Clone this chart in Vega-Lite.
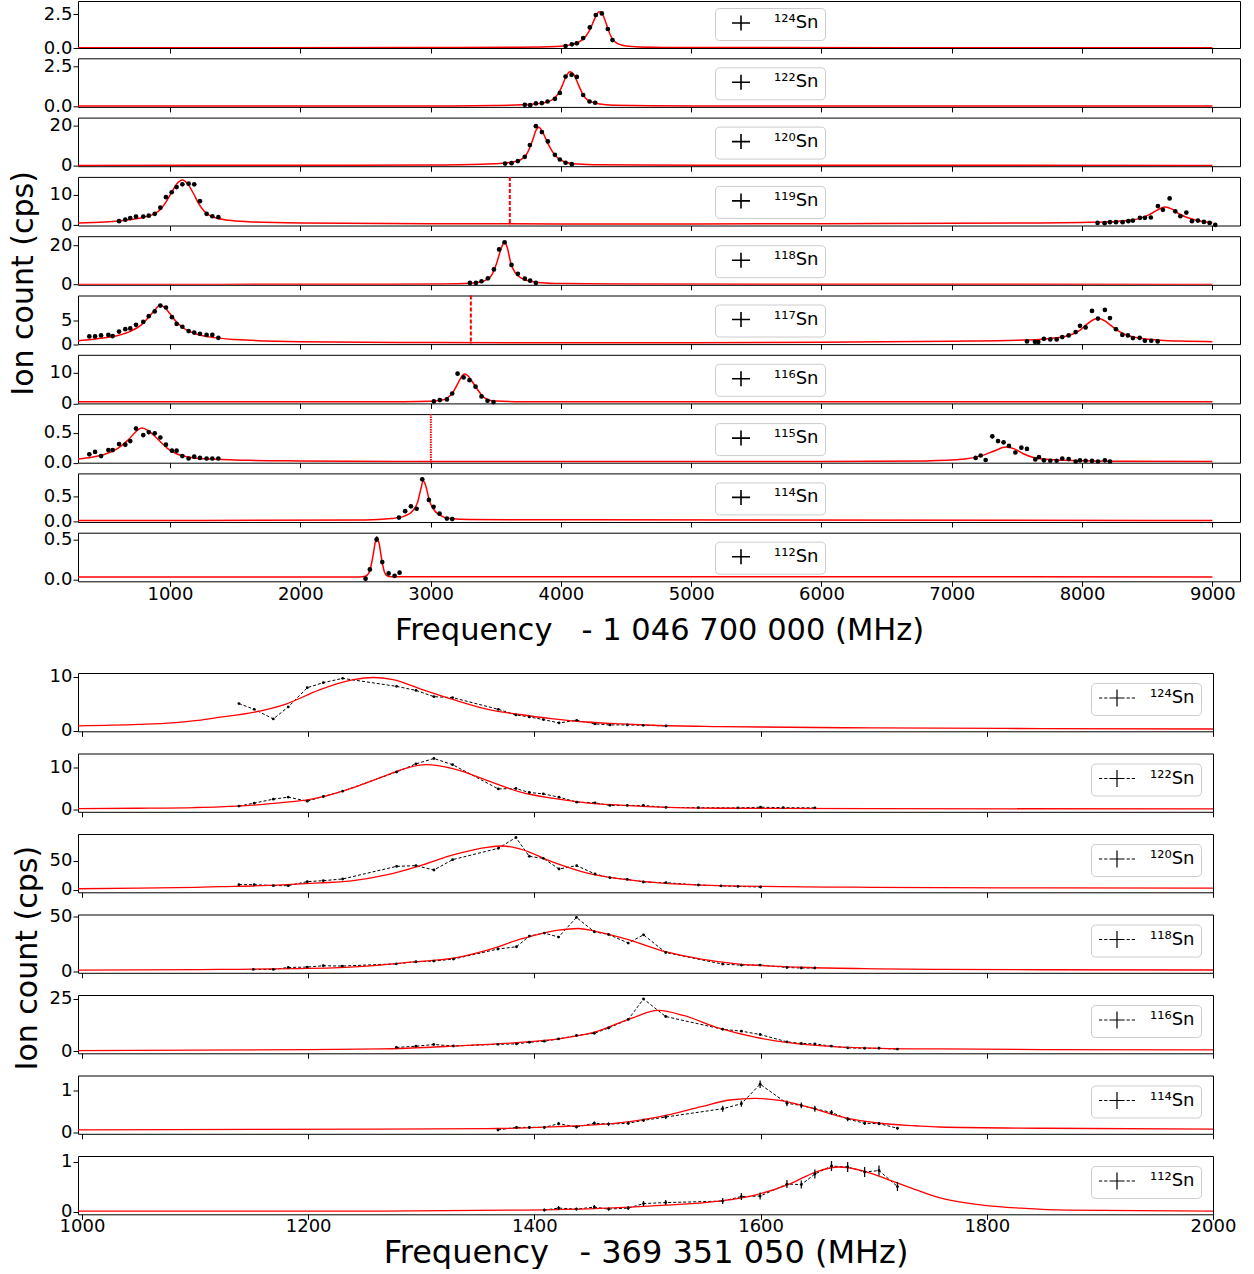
{
"$schema": "https://vega.github.io/schema/vega-lite/v6.json",
"background": "white",
"padding": {"left": 8, "top": 0, "right": 0, "bottom": 0},
"config": {
 "font": "DejaVu Sans",
 "view": {"stroke": "black", "strokeWidth": 1},
 "axis": {"labelFont": "DejaVu Sans", "labelFontSize": 18, "labelColor": "black", "tickColor": "black", "tickSize": 5, "tickWidth": 1, "domain": false, "grid": false, "labelFlush": false, "labelOverlap": false, "labelPadding": 1, "titleFont": "DejaVu Sans", "titleFontSize": 30, "titleFontWeight": "normal", "titleColor": "black", "titlePadding": 8},
 "title": {"font": "DejaVu Sans", "fontSize": 30, "fontWeight": "normal", "color": "black"}
},
"datasets": {
 "T1p": [{"f":4036,"c":0.15},{"f":4084,"c":0.27},{"f":4122,"c":0.35},{"f":4171,"c":0.74},{"f":4222,"c":1.53},{"f":4268,"c":2.45},{"f":4314,"c":2.57},{"f":4360,"c":1.41},{"f":4396,"c":0.59}],
 "T1f": [{"f":294,"c":0.02},{"f":3000,"c":0.03},{"f":3600,"c":0.05},{"f":3900,"c":0.09},{"f":4000,"c":0.13},{"f":4080,"c":0.25},{"f":4140,"c":0.45},{"f":4190,"c":0.85},{"f":4230,"c":1.5},{"f":4260,"c":2.2},{"f":4294,"c":2.69},{"f":4320,"c":2.5},{"f":4350,"c":1.75},{"f":4380,"c":0.95},{"f":4410,"c":0.5},{"f":4450,"c":0.27},{"f":4500,"c":0.15},{"f":4600,"c":0.08},{"f":5000,"c":0.03},{"f":9000,"c":0.02}],
 "T2p": [{"f":3723,"c":0.1},{"f":3764,"c":0.08},{"f":3808,"c":0.19},{"f":3854,"c":0.21},{"f":3898,"c":0.31},{"f":3954,"c":0.48},{"f":3992,"c":0.85},{"f":4036,"c":1.88},{"f":4082,"c":1.99},{"f":4122,"c":1.86},{"f":4171,"c":0.72},{"f":4220,"c":0.31},{"f":4263,"c":0.23}],
 "T2f": [{"f":294,"c":0.02},{"f":3000,"c":0.03},{"f":3500,"c":0.06},{"f":3700,"c":0.1},{"f":3800,"c":0.15},{"f":3880,"c":0.25},{"f":3940,"c":0.45},{"f":3980,"c":0.8},{"f":4010,"c":1.3},{"f":4040,"c":1.9},{"f":4069,"c":2.19},{"f":4100,"c":2.0},{"f":4130,"c":1.45},{"f":4160,"c":0.9},{"f":4190,"c":0.52},{"f":4230,"c":0.3},{"f":4300,"c":0.15},{"f":4400,"c":0.08},{"f":5000,"c":0.03},{"f":9000,"c":0.02}],
 "T3p": [{"f":3572,"c":1.1},{"f":3621,"c":1.3},{"f":3670,"c":2.3},{"f":3723,"c":4.4},{"f":3762,"c":10.2},{"f":3808,"c":19.5},{"f":3854,"c":16.6},{"f":3900,"c":12},{"f":3954,"c":5.4},{"f":3992,"c":3.1},{"f":4036,"c":1.5},{"f":4084,"c":0.8}],
 "T3f": [{"f":294,"c":0.2},{"f":2000,"c":0.25},{"f":3000,"c":0.4},{"f":3400,"c":0.8},{"f":3550,"c":1.2},{"f":3650,"c":2.1},{"f":3700,"c":3.3},{"f":3740,"c":6},{"f":3780,"c":12},{"f":3810,"c":17.5},{"f":3831,"c":19},{"f":3860,"c":16.5},{"f":3900,"c":11},{"f":3940,"c":6.5},{"f":3980,"c":3.6},{"f":4030,"c":1.9},{"f":4100,"c":1.0},{"f":4250,"c":0.55},{"f":4600,"c":0.35},{"f":5500,"c":0.25},{"f":9000,"c":0.2}],
 "T4p": [{"f":609,"c":1.3},{"f":657,"c":1.8},{"f":695,"c":2.3},{"f":739,"c":2.8},{"f":795,"c":2.8},{"f":837,"c":3.1},{"f":883,"c":3.7},{"f":926,"c":5.7},{"f":969,"c":9.1},{"f":1013,"c":10.7},{"f":1051,"c":12.4},{"f":1095,"c":13.3},{"f":1143,"c":13.5},{"f":1186,"c":13.3},{"f":1230,"c":7.8},{"f":1281,"c":3.7},{"f":1325,"c":2.9},{"f":1371,"c":2.6},{"f":8119,"c":0.74},{"f":8173,"c":0.65},{"f":8214,"c":0.97},{"f":8260,"c":0.97},{"f":8311,"c":0.97},{"f":8355,"c":1.3},{"f":8390,"c":1.5},{"f":8444,"c":2.4},{"f":8482,"c":2.4},{"f":8528,"c":2.5},{"f":8582,"c":6.2},{"f":8620,"c":5.0},{"f":8672,"c":8.7},{"f":8715,"c":4.5},{"f":8754,"c":2.9},{"f":8800,"c":4.1},{"f":8843,"c":1.3},{"f":8889,"c":1.5},{"f":8935,"c":1.06},{"f":8979,"c":0.74},{"f":9022,"c":0.1}],
 "T4f": [{"f":294,"c":0.75},{"f":500,"c":1.05},{"f":600,"c":1.35},{"f":700,"c":1.85},{"f":800,"c":2.6},{"f":880,"c":3.7},{"f":930,"c":5.3},{"f":970,"c":7.6},{"f":1010,"c":10.5},{"f":1050,"c":13.3},{"f":1095,"c":14.7},{"f":1140,"c":13.2},{"f":1180,"c":10.3},{"f":1220,"c":7},{"f":1260,"c":4.7},{"f":1300,"c":3.3},{"f":1350,"c":2.4},{"f":1450,"c":1.6},{"f":1600,"c":1.15},{"f":2000,"c":0.75},{"f":3000,"c":0.5},{"f":4000,"c":0.42},{"f":5000,"c":0.42},{"f":6000,"c":0.48},{"f":7000,"c":0.6},{"f":7600,"c":0.72},{"f":8000,"c":0.9},{"f":8200,"c":1.1},{"f":8350,"c":1.5},{"f":8450,"c":2.3},{"f":8520,"c":3.5},{"f":8580,"c":5.0},{"f":8634,"c":5.9},{"f":8690,"c":5.2},{"f":8740,"c":3.8},{"f":8800,"c":2.6},{"f":8870,"c":1.7},{"f":8940,"c":1.1},{"f":9000,"c":0.8}],
 "T5p": [{"f":3302,"c":0.85},{"f":3348,"c":0.85},{"f":3391,"c":1.7},{"f":3440,"c":3.2},{"f":3486,"c":7.7},{"f":3526,"c":17.9},{"f":3568,"c":21.5},{"f":3621,"c":10},{"f":3670,"c":5.5},{"f":3723,"c":3},{"f":3764,"c":2},{"f":3808,"c":0.85}],
 "T5f": [{"f":294,"c":0.1},{"f":2500,"c":0.15},{"f":3100,"c":0.35},{"f":3300,"c":0.7},{"f":3380,"c":1.3},{"f":3430,"c":2.5},{"f":3470,"c":5},{"f":3505,"c":10.5},{"f":3540,"c":18},{"f":3568,"c":21.8},{"f":3590,"c":18.5},{"f":3615,"c":11},{"f":3650,"c":6},{"f":3700,"c":3.2},{"f":3760,"c":1.8},{"f":3850,"c":1.0},{"f":4000,"c":0.5},{"f":4400,"c":0.25},{"f":9000,"c":0.1}],
 "T6p": [{"f":381,"c":1.6},{"f":425,"c":1.6},{"f":471,"c":1.8},{"f":527,"c":1.9},{"f":560,"c":1.67},{"f":609,"c":2.6},{"f":657,"c":3.1},{"f":695,"c":3.25},{"f":739,"c":4},{"f":795,"c":4.6},{"f":837,"c":5.8},{"f":883,"c":6.8},{"f":926,"c":8.0},{"f":969,"c":7.6},{"f":1015,"c":5.6},{"f":1051,"c":4.2},{"f":1095,"c":3.6},{"f":1143,"c":2.7},{"f":1186,"c":2.4},{"f":1230,"c":2.15},{"f":1281,"c":1.9},{"f":1325,"c":1.9},{"f":1371,"c":1.3},{"f":7577,"c":0.55},{"f":7638,"c":0.48},{"f":7664,"c":0.42},{"f":7707,"c":1.1},{"f":7756,"c":0.97},{"f":7805,"c":0.97},{"f":7848,"c":1.46},{"f":7897,"c":1.8},{"f":7951,"c":2.5},{"f":7984,"c":3.8},{"f":8027,"c":3.46},{"f":8076,"c":6.9},{"f":8122,"c":5.3},{"f":8175,"c":7.1},{"f":8214,"c":5.4},{"f":8260,"c":3.1},{"f":8309,"c":1.9},{"f":8352,"c":1.8},{"f":8390,"c":1.25},{"f":8442,"c":1.3},{"f":8482,"c":0.69},{"f":8531,"c":0.69},{"f":8580,"c":0.55}],
 "T6f": [{"f":294,"c":0.7},{"f":400,"c":0.95},{"f":500,"c":1.3},{"f":600,"c":1.8},{"f":700,"c":2.7},{"f":780,"c":4},{"f":850,"c":6},{"f":900,"c":7.6},{"f":918,"c":8.1},{"f":960,"c":7.6},{"f":1000,"c":6.3},{"f":1050,"c":4.6},{"f":1100,"c":3.4},{"f":1200,"c":2.1},{"f":1300,"c":1.5},{"f":1500,"c":0.95},{"f":2000,"c":0.5},{"f":3000,"c":0.32},{"f":4000,"c":0.28},{"f":5000,"c":0.3},{"f":6000,"c":0.38},{"f":7000,"c":0.6},{"f":7500,"c":0.8},{"f":7700,"c":1.0},{"f":7800,"c":1.3},{"f":7900,"c":1.8},{"f":7980,"c":2.8},{"f":8040,"c":4.2},{"f":8090,"c":5.1},{"f":8122,"c":5.3},{"f":8170,"c":4.9},{"f":8220,"c":3.9},{"f":8280,"c":2.7},{"f":8350,"c":1.8},{"f":8450,"c":1.2},{"f":8600,"c":0.8},{"f":8800,"c":0.6},{"f":9000,"c":0.5}],
 "T7p": [{"f":3025,"c":0.65},{"f":3071,"c":1.07},{"f":3125,"c":1.3},{"f":3166,"c":3.2},{"f":3207,"c":9.6},{"f":3253,"c":8.4},{"f":3299,"c":7.5},{"f":3345,"c":5.4},{"f":3391,"c":2.26},{"f":3437,"c":0.86},{"f":3483,"c":0.42}],
 "T7f": [{"f":294,"c":0.5},{"f":2800,"c":0.55},{"f":3000,"c":0.7},{"f":3080,"c":1.0},{"f":3130,"c":1.8},{"f":3170,"c":3.5},{"f":3210,"c":6.5},{"f":3240,"c":8.8},{"f":3259,"c":9.5},{"f":3290,"c":8.8},{"f":3320,"c":7},{"f":3360,"c":4.5},{"f":3400,"c":2.3},{"f":3440,"c":1.2},{"f":3500,"c":0.75},{"f":3700,"c":0.55},{"f":9000,"c":0.5}],
 "T8p": [{"f":381,"c":0.14,"e":0.03},{"f":425,"c":0.18,"e":0.03},{"f":471,"c":0.11,"e":0.03},{"f":527,"c":0.21,"e":0.03},{"f":560,"c":0.21,"e":0.03},{"f":609,"c":0.31,"e":0.03},{"f":657,"c":0.3,"e":0.03},{"f":695,"c":0.36,"e":0.03},{"f":739,"c":0.57,"e":0.035},{"f":795,"c":0.46,"e":0.035},{"f":837,"c":0.51,"e":0.035},{"f":883,"c":0.49,"e":0.035},{"f":926,"c":0.42,"e":0.03},{"f":969,"c":0.3,"e":0.03},{"f":1015,"c":0.2,"e":0.03},{"f":1051,"c":0.2,"e":0.03},{"f":1095,"c":0.11,"e":0.02},{"f":1143,"c":0.07,"e":0.02},{"f":1186,"c":0.1,"e":0.02},{"f":1230,"c":0.08,"e":0.02},{"f":1281,"c":0.07,"e":0.02},{"f":1325,"c":0.07,"e":0.02},{"f":1371,"c":0.07,"e":0.02},{"f":7183,"c":0.08,"e":0.02},{"f":7222,"c":0.12,"e":0.02},{"f":7260,"c":0.045,"e":0.02},{"f":7311,"c":0.44,"e":0.035},{"f":7355,"c":0.36,"e":0.03},{"f":7398,"c":0.34,"e":0.03},{"f":7439,"c":0.28,"e":0.03},{"f":7488,"c":0.17,"e":0.03},{"f":7534,"c":0.25,"e":0.03},{"f":7577,"c":0.23,"e":0.03},{"f":7641,"c":0.055,"e":0.02},{"f":7669,"c":0.095,"e":0.02},{"f":7707,"c":0.04,"e":0.02},{"f":7756,"c":0.033,"e":0.02},{"f":7805,"c":0.033,"e":0.02},{"f":7848,"c":0.07,"e":0.02},{"f":7897,"c":0.06,"e":0.02},{"f":7951,"c":0.02,"e":0.02},{"f":7984,"c":0.04,"e":0.02},{"f":8027,"c":0.033,"e":0.02},{"f":8076,"c":0.03,"e":0.02},{"f":8122,"c":0.02,"e":0.02},{"f":8175,"c":0.04,"e":0.02},{"f":8214,"c":0.02,"e":0.02}],
 "T8f": [{"f":294,"c":0.06},{"f":400,"c":0.09},{"f":500,"c":0.14},{"f":600,"c":0.24},{"f":680,"c":0.38},{"f":740,"c":0.52},{"f":783,"c":0.58},{"f":830,"c":0.54},{"f":880,"c":0.45},{"f":930,"c":0.34},{"f":980,"c":0.24},{"f":1050,"c":0.15},{"f":1150,"c":0.09},{"f":1300,"c":0.06},{"f":1600,"c":0.04},{"f":2000,"c":0.03},{"f":3000,"c":0.02},{"f":6000,"c":0.02},{"f":6800,"c":0.03},{"f":7100,"c":0.06},{"f":7250,"c":0.13},{"f":7330,"c":0.2},{"f":7418,"c":0.26},{"f":7480,"c":0.23},{"f":7550,"c":0.15},{"f":7620,"c":0.09},{"f":7700,"c":0.06},{"f":7850,"c":0.04},{"f":8200,"c":0.025},{"f":9000,"c":0.02}],
 "T9p": [{"f":2757,"c":0.07,"e":0.03},{"f":2805,"c":0.2,"e":0.03},{"f":2849,"c":0.3,"e":0.03},{"f":2893,"c":0.25,"e":0.03},{"f":2936,"c":0.85,"e":0.04},{"f":2987,"c":0.43,"e":0.03},{"f":3023,"c":0.29,"e":0.03},{"f":3069,"c":0.15,"e":0.03},{"f":3125,"c":0.05,"e":0.02},{"f":3166,"c":0.04,"e":0.02}],
 "T9f": [{"f":294,"c":0.01},{"f":2500,"c":0.02},{"f":2700,"c":0.05},{"f":2800,"c":0.1},{"f":2860,"c":0.2},{"f":2900,"c":0.38},{"f":2925,"c":0.65},{"f":2944,"c":0.82},{"f":2965,"c":0.7},{"f":2990,"c":0.42},{"f":3020,"c":0.25},{"f":3070,"c":0.12},{"f":3150,"c":0.05},{"f":3300,"c":0.03},{"f":9000,"c":0.01}],
 "T10p": [{"f":2501,"c":0.016,"e":0.02},{"f":2534,"c":0.13,"e":0.025},{"f":2586,"c":0.5,"e":0.035},{"f":2629,"c":0.22,"e":0.025},{"f":2678,"c":0.08,"e":0.02},{"f":2724,"c":0.05,"e":0.02},{"f":2762,"c":0.09,"e":0.02}],
 "T10f": [{"f":294,"c":0.037},{"f":2450,"c":0.037},{"f":2500,"c":0.045},{"f":2530,"c":0.1},{"f":2555,"c":0.27},{"f":2575,"c":0.46},{"f":2588,"c":0.53},{"f":2605,"c":0.45},{"f":2625,"c":0.25},{"f":2645,"c":0.1},{"f":2665,"c":0.05},{"f":2700,"c":0.04},{"f":9000,"c":0.037}],
 "B1p": [{"f":1138.8,"c":5.03},{"f":1152.3,"c":3.97},{"f":1169.2,"c":2.18},{"f":1182.4,"c":4.41},{"f":1199.2,"c":8.0},{"f":1213.4,"c":8.94},{"f":1230.5,"c":9.74},{"f":1278.2,"c":8.25},{"f":1295.3,"c":7.5},{"f":1311.2,"c":6.33},{"f":1327.7,"c":6.15},{"f":1368.1,"c":3.97},{"f":1383.7,"c":2.92},{"f":1395.5,"c":2.55},{"f":1407.9,"c":2.05},{"f":1421.8,"c":1.43},{"f":1437.4,"c":1.92},{"f":1453.6,"c":1.25},{"f":1466.8,"c":1.06},{"f":1482.1,"c":1.06},{"f":1496.3,"c":0.99},{"f":1516.4,"c":0.87}],
 "B1f": [{"f":996.5,"c":0.88},{"f":1050,"c":1.15},{"f":1080,"c":1.45},{"f":1100,"c":1.85},{"f":1122,"c":2.5},{"f":1151.5,"c":3.4},{"f":1181,"c":5.0},{"f":1210,"c":7.6},{"f":1240,"c":9.5},{"f":1257.6,"c":9.9},{"f":1275,"c":9.5},{"f":1299,"c":7.8},{"f":1328,"c":5.8},{"f":1358,"c":4.0},{"f":1387,"c":3.0},{"f":1417,"c":2.2},{"f":1446,"c":1.6},{"f":1476,"c":1.25},{"f":1505,"c":1.0},{"f":1564,"c":0.75},{"f":1700,"c":0.5},{"f":1850,"c":0.38},{"f":2000,"c":0.3}],
 "B2p": [{"f":1138.8,"c":0.72},{"f":1152.3,"c":1.44},{"f":1169.2,"c":2.4},{"f":1182.4,"c":2.88},{"f":1199.2,"c":1.92},{"f":1213.4,"c":3.04},{"f":1230.5,"c":4.32},{"f":1278.2,"c":8.95},{"f":1295.3,"c":10.9},{"f":1311.2,"c":12.2},{"f":1327.7,"c":10.7},{"f":1368.1,"c":4.87},{"f":1383.7,"c":4.96},{"f":1395.5,"c":4.0},{"f":1407.9,"c":3.67},{"f":1421.8,"c":2.88},{"f":1437.4,"c":1.68},{"f":1453.6,"c":1.52},{"f":1466.8,"c":0.88},{"f":1482.1,"c":0.88},{"f":1496.3,"c":0.88},{"f":1516.4,"c":0.4},{"f":1545,"c":0.35},{"f":1580,"c":0.3},{"f":1600,"c":0.45},{"f":1620,"c":0.35},{"f":1648,"c":0.3}],
 "B2f": [{"f":996.5,"c":0.1},{"f":1050,"c":0.2},{"f":1100,"c":0.38},{"f":1122,"c":0.55},{"f":1151.5,"c":0.96},{"f":1181,"c":1.68},{"f":1199,"c":2.2},{"f":1210,"c":2.8},{"f":1240,"c":5.2},{"f":1269,"c":8.15},{"f":1287,"c":9.9},{"f":1304.7,"c":10.7},{"f":1328,"c":9.75},{"f":1358,"c":6.95},{"f":1387,"c":4.15},{"f":1417,"c":2.56},{"f":1446,"c":1.52},{"f":1476,"c":0.96},{"f":1505,"c":0.55},{"f":1564,"c":0.2},{"f":1700,"c":0.1},{"f":2000,"c":0.05}],
 "B3p": [{"f":1138.8,"c":8.6},{"f":1152.3,"c":8.6},{"f":1169.2,"c":6.9},{"f":1182.4,"c":6.9},{"f":1199.2,"c":13.8},{"f":1213.4,"c":15.5},{"f":1230.5,"c":18.4},{"f":1278.2,"c":40.2},{"f":1295.3,"c":41.4},{"f":1311.2,"c":33.9},{"f":1327.7,"c":51.7},{"f":1368.1,"c":71.3},{"f":1383.7,"c":90},{"f":1395.5,"c":57.4},{"f":1407.9,"c":54},{"f":1421.8,"c":35.6},{"f":1437.4,"c":41.4},{"f":1453.6,"c":27},{"f":1466.8,"c":20.7},{"f":1482.1,"c":17.8},{"f":1496.3,"c":13.2},{"f":1516.4,"c":12},{"f":1545,"c":8},{"f":1565,"c":6.5},{"f":1580,"c":5.5},{"f":1600,"c":4.5}],
 "B3f": [{"f":996.5,"c":1.5},{"f":1050,"c":2.5},{"f":1100,"c":4},{"f":1122,"c":5.2},{"f":1151.5,"c":6.3},{"f":1181,"c":8.6},{"f":1210,"c":11.5},{"f":1240,"c":15.5},{"f":1269,"c":25.3},{"f":1299,"c":41.4},{"f":1328,"c":59.8},{"f":1358,"c":73},{"f":1372.5,"c":75.3},{"f":1387,"c":70.2},{"f":1417,"c":47},{"f":1446,"c":28.8},{"f":1476,"c":18.4},{"f":1505,"c":12.6},{"f":1564,"c":6.9},{"f":1700,"c":4},{"f":1850,"c":3},{"f":2000,"c":2.5}],
 "B4p": [{"f":1151.5,"c":1.5},{"f":1169.2,"c":1.5},{"f":1182.4,"c":3.3},{"f":1199.2,"c":3.7},{"f":1213.4,"c":4.9},{"f":1230.2,"c":4.6},{"f":1278,"c":6.7},{"f":1295.3,"c":8.6},{"f":1311,"c":9.2},{"f":1328.4,"c":11},{"f":1367.8,"c":20.3},{"f":1384.2,"c":22.4},{"f":1395.6,"c":32.2},{"f":1408.8,"c":35},{"f":1421.4,"c":31.3},{"f":1437.2,"c":49.4},{"f":1453,"c":36.2},{"f":1465.6,"c":33.7},{"f":1483,"c":25.8},{"f":1496.5,"c":33.4},{"f":1516.1,"c":17.1},{"f":1566.5,"c":6.4},{"f":1583,"c":5.5},{"f":1599.6,"c":5.5},{"f":1623.3,"c":3.3},{"f":1636,"c":2.8},{"f":1648,"c":2.8}],
 "B4f": [{"f":996.5,"c":0.9},{"f":1100,"c":1.4},{"f":1200,"c":2.4},{"f":1263.7,"c":5.5},{"f":1295.3,"c":8.6},{"f":1326.8,"c":11.6},{"f":1358.4,"c":19.3},{"f":1389.9,"c":30},{"f":1421.4,"c":37.7},{"f":1438.8,"c":39.2},{"f":1453,"c":36.8},{"f":1484.5,"c":28.5},{"f":1516,"c":17.8},{"f":1547.6,"c":11},{"f":1579,"c":6.7},{"f":1610.7,"c":4.6},{"f":1642,"c":3.3},{"f":1705,"c":2.1},{"f":1758,"c":1.5},{"f":1850,"c":1.2},{"f":2000,"c":1.0}],
 "B5p": [{"f":1278,"c":1.8},{"f":1295.3,"c":2.4},{"f":1311,"c":3.2},{"f":1328.4,"c":2.5},{"f":1367.8,"c":3.3},{"f":1384.2,"c":3.5},{"f":1395.6,"c":4.3},{"f":1408.8,"c":4.8},{"f":1421.4,"c":5.9},{"f":1437.2,"c":7.5},{"f":1453,"c":8.6},{"f":1465.6,"c":11.1},{"f":1483,"c":15.2},{"f":1496.5,"c":25},{"f":1516.1,"c":16.6},{"f":1566.5,"c":10.5},{"f":1583,"c":9.6},{"f":1599.6,"c":8},{"f":1623.3,"c":4.5},{"f":1636,"c":3.7},{"f":1648,"c":3.5},{"f":1662.7,"c":2.4},{"f":1677,"c":1.6},{"f":1692,"c":1.4},{"f":1704.7,"c":1.4},{"f":1721,"c":1.0}],
 "B5f": [{"f":996.5,"c":0.3},{"f":1200,"c":0.8},{"f":1263.7,"c":1.1},{"f":1326.8,"c":2.4},{"f":1389.9,"c":4.3},{"f":1421.4,"c":5.9},{"f":1453,"c":9.1},{"f":1484.5,"c":15.5},{"f":1509.8,"c":19.5},{"f":1531.8,"c":17.1},{"f":1563.4,"c":11},{"f":1594.9,"c":6.7},{"f":1626.5,"c":4},{"f":1658,"c":2.4},{"f":1705.3,"c":1.4},{"f":1758,"c":1.1},{"f":1850,"c":0.8},{"f":2000,"c":0.6}],
 "B6p": [{"f":1367.8,"c":0.06,"e":0.03},{"f":1384.2,"c":0.12,"e":0.03},{"f":1395.6,"c":0.12,"e":0.03},{"f":1408.8,"c":0.12,"e":0.03},{"f":1421.4,"c":0.21,"e":0.04},{"f":1437.2,"c":0.13,"e":0.03},{"f":1453,"c":0.22,"e":0.04},{"f":1465.6,"c":0.2,"e":0.04},{"f":1483,"c":0.22,"e":0.04},{"f":1496.5,"c":0.29,"e":0.04},{"f":1516.1,"c":0.37,"e":0.05},{"f":1566.5,"c":0.57,"e":0.07},{"f":1583,"c":0.69,"e":0.07},{"f":1599.6,"c":1.16,"e":0.09},{"f":1623.3,"c":0.7,"e":0.07},{"f":1636,"c":0.65,"e":0.07},{"f":1648,"c":0.57,"e":0.07},{"f":1662.7,"c":0.48,"e":0.06},{"f":1677,"c":0.32,"e":0.05},{"f":1692,"c":0.22,"e":0.04},{"f":1704.7,"c":0.21,"e":0.04},{"f":1721,"c":0.1,"e":0.03}],
 "B6f": [{"f":996.5,"c":0.06},{"f":1263.7,"c":0.08},{"f":1358.4,"c":0.09},{"f":1421.4,"c":0.14},{"f":1453,"c":0.18},{"f":1484.5,"c":0.26},{"f":1516,"c":0.41},{"f":1547.6,"c":0.62},{"f":1572.8,"c":0.78},{"f":1595,"c":0.82},{"f":1617,"c":0.77},{"f":1642.3,"c":0.61},{"f":1673.8,"c":0.36},{"f":1705.3,"c":0.22},{"f":1736.9,"c":0.16},{"f":1758,"c":0.13},{"f":1850,"c":0.1},{"f":2000,"c":0.08}],
 "B7p": [{"f":1408.8,"c":0.03,"e":0.03},{"f":1421.4,"c":0.07,"e":0.04},{"f":1437.2,"c":0.05,"e":0.03},{"f":1453,"c":0.09,"e":0.04},{"f":1465.6,"c":0.05,"e":0.03},{"f":1483,"c":0.07,"e":0.04},{"f":1496.5,"c":0.16,"e":0.05},{"f":1516.1,"c":0.18,"e":0.05},{"f":1566.5,"c":0.21,"e":0.06},{"f":1583,"c":0.3,"e":0.07},{"f":1599.6,"c":0.31,"e":0.07},{"f":1623.3,"c":0.55,"e":0.08},{"f":1636,"c":0.54,"e":0.08},{"f":1648,"c":0.75,"e":0.09},{"f":1662.7,"c":0.91,"e":0.1},{"f":1677,"c":0.89,"e":0.1},{"f":1692,"c":0.79,"e":0.1},{"f":1704.7,"c":0.82,"e":0.1},{"f":1721,"c":0.5,"e":0.09}],
 "B7f": [{"f":996.5,"c":0.01},{"f":1263.7,"c":0.01},{"f":1389.9,"c":0.03},{"f":1453,"c":0.06},{"f":1516,"c":0.13},{"f":1563.4,"c":0.21},{"f":1595,"c":0.33},{"f":1626.5,"c":0.56},{"f":1648.6,"c":0.79},{"f":1669,"c":0.89},{"f":1689.6,"c":0.82},{"f":1711.6,"c":0.65},{"f":1736.9,"c":0.44},{"f":1758,"c":0.28},{"f":1780,"c":0.18},{"f":1800,"c":0.12},{"f":1830,"c":0.07},{"f":1870,"c":0.03},{"f":2000,"c":0.01}]
},
"spacing": 20,
"resolve": {"scale": {"color": "independent"}, "legend": {"color": "independent"}},
"vconcat": [
{
 "title": {"text": "Ion count (cps)", "orient": "left", "anchor": "middle", "offset": 4, "dx": 40},
 "bounds": "flush",
 "spacing": 10.3,
 "resolve": {"scale": {"color": "independent"}, "legend": {"color": "independent"}},
 "vconcat": [
  {"width": 1162, "height": 47, "layer": [
   {"data": {"name": "T1f"}, "mark": {"type": "line", "color": "red", "strokeWidth": 1.5, "interpolate": "monotone", "clip": true},
    "encoding": {"x": {"field": "f", "type": "quantitative", "scale": {"domain": [294, 9212], "nice": false, "zero": false}, "axis": {"title": null, "labels": false, "values": [1000,2000,3000,4000,5000,6000,7000,8000,9000]}},
                 "y": {"field": "c", "type": "quantitative", "scale": {"domain": [0, 3.49], "nice": false, "zero": false}, "axis": {"title": null, "values": [0, 2.5], "format": ".1f"}}}},
   {"data": {"name": "T1p"}, "mark": {"type": "point", "filled": true, "size": 22, "opacity": 1},
    "encoding": {"x": {"field": "f", "type": "quantitative"}, "y": {"field": "c", "type": "quantitative"},
     "color": {"datum": "¹²⁴Sn", "scale": {"range": ["black"]}, "legend": {"orient": "none", "legendX": 637, "legendY": 7, "title": null, "padding": 6, "strokeColor": "#cccccc", "fillColor": "rgba(255,255,255,0.8)", "cornerRadius": 4, "labelFontSize": 18, "labelFont": "DejaVu Sans", "labelColor": "black", "labelOffset": 24, "symbolSize": 256, "symbolOffset": 11, "symbolType": "M-1.125,0H1.125M0,-0.94V0.94", "symbolStrokeColor": "black", "symbolStrokeWidth": 1.6, "symbolFillColor": "transparent", "encode": {"symbols": {"update": {"fill": {"value": "transparent"}, "stroke": {"value": "black"}, "strokeWidth": {"value": 1.6}, "shape": {"value": "M-1.125,0H1.125M0,-0.94V0.94"}}}}}}}}
  ]},
  {"width": 1162, "height": 48.6, "layer": [
   {"data": {"name": "T2f"}, "mark": {"type": "line", "color": "red", "strokeWidth": 1.5, "interpolate": "monotone", "clip": true},
    "encoding": {"x": {"field": "f", "type": "quantitative", "scale": {"domain": [294, 9212], "nice": false, "zero": false}, "axis": {"title": null, "labels": false, "values": [1000,2000,3000,4000,5000,6000,7000,8000,9000]}},
                 "y": {"field": "c", "type": "quantitative", "scale": {"domain": [-0.03, 3.03], "nice": false, "zero": false}, "axis": {"title": null, "values": [0, 2.5], "format": ".1f"}}}},
   {"data": {"name": "T2p"}, "mark": {"type": "point", "filled": true, "size": 22, "opacity": 1},
    "encoding": {"x": {"field": "f", "type": "quantitative"}, "y": {"field": "c", "type": "quantitative"},
     "color": {"datum": "¹²²Sn", "scale": {"range": ["black"]}, "legend": {"orient": "none", "legendX": 637, "legendY": 9, "title": null, "padding": 6, "strokeColor": "#cccccc", "fillColor": "rgba(255,255,255,0.8)", "cornerRadius": 4, "labelFontSize": 18, "labelFont": "DejaVu Sans", "labelColor": "black", "labelOffset": 24, "symbolSize": 256, "symbolOffset": 11, "symbolType": "M-1.125,0H1.125M0,-0.94V0.94", "symbolStrokeColor": "black", "symbolStrokeWidth": 1.6, "symbolFillColor": "transparent", "encode": {"symbols": {"update": {"fill": {"value": "transparent"}, "stroke": {"value": "black"}, "strokeWidth": {"value": 1.6}, "shape": {"value": "M-1.125,0H1.125M0,-0.94V0.94"}}}}}}}}
  ]},
  {"width": 1162, "height": 48.6, "layer": [
   {"data": {"name": "T3f"}, "mark": {"type": "line", "color": "red", "strokeWidth": 1.5, "interpolate": "monotone", "clip": true},
    "encoding": {"x": {"field": "f", "type": "quantitative", "scale": {"domain": [294, 9212], "nice": false, "zero": false}, "axis": {"title": null, "labels": false, "values": [1000,2000,3000,4000,5000,6000,7000,8000,9000]}},
                 "y": {"field": "c", "type": "quantitative", "scale": {"domain": [-0.2, 23.7], "nice": false, "zero": false}, "axis": {"title": null, "values": [0, 20], "format": "d"}}}},
   {"data": {"name": "T3p"}, "mark": {"type": "point", "filled": true, "size": 22, "opacity": 1},
    "encoding": {"x": {"field": "f", "type": "quantitative"}, "y": {"field": "c", "type": "quantitative"},
     "color": {"datum": "¹²⁰Sn", "scale": {"range": ["black"]}, "legend": {"orient": "none", "legendX": 637, "legendY": 9, "title": null, "padding": 6, "strokeColor": "#cccccc", "fillColor": "rgba(255,255,255,0.8)", "cornerRadius": 4, "labelFontSize": 18, "labelFont": "DejaVu Sans", "labelColor": "black", "labelOffset": 24, "symbolSize": 256, "symbolOffset": 11, "symbolType": "M-1.125,0H1.125M0,-0.94V0.94", "symbolStrokeColor": "black", "symbolStrokeWidth": 1.6, "symbolFillColor": "transparent", "encode": {"symbols": {"update": {"fill": {"value": "transparent"}, "stroke": {"value": "black"}, "strokeWidth": {"value": 1.6}, "shape": {"value": "M-1.125,0H1.125M0,-0.94V0.94"}}}}}}}}
  ]},
  {"width": 1162, "height": 48.6, "layer": [
   {"data": {"name": "T4f"}, "mark": {"type": "line", "color": "red", "strokeWidth": 1.5, "interpolate": "monotone", "clip": true},
    "encoding": {"x": {"field": "f", "type": "quantitative", "scale": {"domain": [294, 9212], "nice": false, "zero": false}, "axis": {"title": null, "labels": false, "values": [1000,2000,3000,4000,5000,6000,7000,8000,9000]}},
                 "y": {"field": "c", "type": "quantitative", "scale": {"domain": [-0.1, 15.7], "nice": false, "zero": false}, "axis": {"title": null, "values": [0, 10], "format": "d"}}}},
   {"data": {"values": [{"f": 3608}]}, "mark": {"type": "rule", "color": "red", "strokeDash": [4, 2], "strokeWidth": 2}, "encoding": {"x": {"field": "f", "type": "quantitative"}}},
   {"data": {"name": "T4p"}, "mark": {"type": "point", "filled": true, "size": 22, "opacity": 1},
    "encoding": {"x": {"field": "f", "type": "quantitative"}, "y": {"field": "c", "type": "quantitative"},
     "color": {"datum": "¹¹⁹Sn", "scale": {"range": ["black"]}, "legend": {"orient": "none", "legendX": 637, "legendY": 9, "title": null, "padding": 6, "strokeColor": "#cccccc", "fillColor": "rgba(255,255,255,0.8)", "cornerRadius": 4, "labelFontSize": 18, "labelFont": "DejaVu Sans", "labelColor": "black", "labelOffset": 24, "symbolSize": 256, "symbolOffset": 11, "symbolType": "M-1.125,0H1.125M0,-0.94V0.94", "symbolStrokeColor": "black", "symbolStrokeWidth": 1.6, "symbolFillColor": "transparent", "encode": {"symbols": {"update": {"fill": {"value": "transparent"}, "stroke": {"value": "black"}, "strokeWidth": {"value": 1.6}, "shape": {"value": "M-1.125,0H1.125M0,-0.94V0.94"}}}}}}}}
  ]},
  {"width": 1162, "height": 48.6, "layer": [
   {"data": {"name": "T5f"}, "mark": {"type": "line", "color": "red", "strokeWidth": 1.5, "interpolate": "monotone", "clip": true},
    "encoding": {"x": {"field": "f", "type": "quantitative", "scale": {"domain": [294, 9212], "nice": false, "zero": false}, "axis": {"title": null, "labels": false, "values": [1000,2000,3000,4000,5000,6000,7000,8000,9000]}},
                 "y": {"field": "c", "type": "quantitative", "scale": {"domain": [-0.1, 24.6], "nice": false, "zero": false}, "axis": {"title": null, "values": [0, 20], "format": "d"}}}},
   {"data": {"name": "T5p"}, "mark": {"type": "point", "filled": true, "size": 22, "opacity": 1},
    "encoding": {"x": {"field": "f", "type": "quantitative"}, "y": {"field": "c", "type": "quantitative"},
     "color": {"datum": "¹¹⁸Sn", "scale": {"range": ["black"]}, "legend": {"orient": "none", "legendX": 637, "legendY": 9, "title": null, "padding": 6, "strokeColor": "#cccccc", "fillColor": "rgba(255,255,255,0.8)", "cornerRadius": 4, "labelFontSize": 18, "labelFont": "DejaVu Sans", "labelColor": "black", "labelOffset": 24, "symbolSize": 256, "symbolOffset": 11, "symbolType": "M-1.125,0H1.125M0,-0.94V0.94", "symbolStrokeColor": "black", "symbolStrokeWidth": 1.6, "symbolFillColor": "transparent", "encode": {"symbols": {"update": {"fill": {"value": "transparent"}, "stroke": {"value": "black"}, "strokeWidth": {"value": 1.6}, "shape": {"value": "M-1.125,0H1.125M0,-0.94V0.94"}}}}}}}}
  ]},
  {"width": 1162, "height": 48.6, "layer": [
   {"data": {"name": "T6f"}, "mark": {"type": "line", "color": "red", "strokeWidth": 1.5, "interpolate": "monotone", "clip": true},
    "encoding": {"x": {"field": "f", "type": "quantitative", "scale": {"domain": [294, 9212], "nice": false, "zero": false}, "axis": {"title": null, "labels": false, "values": [1000,2000,3000,4000,5000,6000,7000,8000,9000]}},
                 "y": {"field": "c", "type": "quantitative", "scale": {"domain": [0, 10.1], "nice": false, "zero": false}, "axis": {"title": null, "values": [0, 5], "format": "d"}}}},
   {"data": {"values": [{"f": 3309}]}, "mark": {"type": "rule", "color": "red", "strokeDash": [4, 2], "strokeWidth": 2}, "encoding": {"x": {"field": "f", "type": "quantitative"}}},
   {"data": {"name": "T6p"}, "mark": {"type": "point", "filled": true, "size": 22, "opacity": 1},
    "encoding": {"x": {"field": "f", "type": "quantitative"}, "y": {"field": "c", "type": "quantitative"},
     "color": {"datum": "¹¹⁷Sn", "scale": {"range": ["black"]}, "legend": {"orient": "none", "legendX": 637, "legendY": 9, "title": null, "padding": 6, "strokeColor": "#cccccc", "fillColor": "rgba(255,255,255,0.8)", "cornerRadius": 4, "labelFontSize": 18, "labelFont": "DejaVu Sans", "labelColor": "black", "labelOffset": 24, "symbolSize": 256, "symbolOffset": 11, "symbolType": "M-1.125,0H1.125M0,-0.94V0.94", "symbolStrokeColor": "black", "symbolStrokeWidth": 1.6, "symbolFillColor": "transparent", "encode": {"symbols": {"update": {"fill": {"value": "transparent"}, "stroke": {"value": "black"}, "strokeWidth": {"value": 1.6}, "shape": {"value": "M-1.125,0H1.125M0,-0.94V0.94"}}}}}}}}
  ]},
  {"width": 1162, "height": 48.6, "layer": [
   {"data": {"name": "T7f"}, "mark": {"type": "line", "color": "red", "strokeWidth": 1.5, "interpolate": "monotone", "clip": true},
    "encoding": {"x": {"field": "f", "type": "quantitative", "scale": {"domain": [294, 9212], "nice": false, "zero": false}, "axis": {"title": null, "labels": false, "values": [1000,2000,3000,4000,5000,6000,7000,8000,9000]}},
                 "y": {"field": "c", "type": "quantitative", "scale": {"domain": [0, 15.7], "nice": false, "zero": false}, "axis": {"title": null, "values": [0, 10], "format": "d"}}}},
   {"data": {"name": "T7p"}, "mark": {"type": "point", "filled": true, "size": 22, "opacity": 1},
    "encoding": {"x": {"field": "f", "type": "quantitative"}, "y": {"field": "c", "type": "quantitative"},
     "color": {"datum": "¹¹⁶Sn", "scale": {"range": ["black"]}, "legend": {"orient": "none", "legendX": 637, "legendY": 9, "title": null, "padding": 6, "strokeColor": "#cccccc", "fillColor": "rgba(255,255,255,0.8)", "cornerRadius": 4, "labelFontSize": 18, "labelFont": "DejaVu Sans", "labelColor": "black", "labelOffset": 24, "symbolSize": 256, "symbolOffset": 11, "symbolType": "M-1.125,0H1.125M0,-0.94V0.94", "symbolStrokeColor": "black", "symbolStrokeWidth": 1.6, "symbolFillColor": "transparent", "encode": {"symbols": {"update": {"fill": {"value": "transparent"}, "stroke": {"value": "black"}, "strokeWidth": {"value": 1.6}, "shape": {"value": "M-1.125,0H1.125M0,-0.94V0.94"}}}}}}}}
  ]},
  {"width": 1162, "height": 48.6, "layer": [
   {"data": {"name": "T8f"}, "mark": {"type": "line", "color": "red", "strokeWidth": 1.5, "interpolate": "monotone", "clip": true},
    "encoding": {"x": {"field": "f", "type": "quantitative", "scale": {"domain": [294, 9212], "nice": false, "zero": false}, "axis": {"title": null, "labels": false, "values": [1000,2000,3000,4000,5000,6000,7000,8000,9000]}},
                 "y": {"field": "c", "type": "quantitative", "scale": {"domain": [0, 0.81], "nice": false, "zero": false}, "axis": {"title": null, "values": [0, 0.5], "format": ".1f"}}}},
   {"data": {"values": [{"f": 3002}]}, "mark": {"type": "rule", "color": "red", "strokeDash": [1.5, 1], "strokeWidth": 2}, "encoding": {"x": {"field": "f", "type": "quantitative"}}},
   {"data": {"name": "T8p"}, "mark": {"type": "errorbar", "color": "black", "rule": {"strokeWidth": 1.2}}, "encoding": {"x": {"field": "f", "type": "quantitative"}, "y": {"field": "c", "type": "quantitative"}, "yError": {"field": "e"}}},
   {"data": {"name": "T8p"}, "mark": {"type": "point", "filled": true, "size": 22, "opacity": 1},
    "encoding": {"x": {"field": "f", "type": "quantitative"}, "y": {"field": "c", "type": "quantitative"},
     "color": {"datum": "¹¹⁵Sn", "scale": {"range": ["black"]}, "legend": {"orient": "none", "legendX": 637, "legendY": 9, "title": null, "padding": 6, "strokeColor": "#cccccc", "fillColor": "rgba(255,255,255,0.8)", "cornerRadius": 4, "labelFontSize": 18, "labelFont": "DejaVu Sans", "labelColor": "black", "labelOffset": 24, "symbolSize": 256, "symbolOffset": 11, "symbolType": "M-1.125,0H1.125M0,-0.94V0.94", "symbolStrokeColor": "black", "symbolStrokeWidth": 1.6, "symbolFillColor": "transparent", "encode": {"symbols": {"update": {"fill": {"value": "transparent"}, "stroke": {"value": "black"}, "strokeWidth": {"value": 1.6}, "shape": {"value": "M-1.125,0H1.125M0,-0.94V0.94"}}}}}}}}
  ]},
  {"width": 1162, "height": 48.6, "layer": [
   {"data": {"name": "T9f"}, "mark": {"type": "line", "color": "red", "strokeWidth": 1.5, "interpolate": "monotone", "clip": true},
    "encoding": {"x": {"field": "f", "type": "quantitative", "scale": {"domain": [294, 9212], "nice": false, "zero": false}, "axis": {"title": null, "labels": false, "values": [1000,2000,3000,4000,5000,6000,7000,8000,9000]}},
                 "y": {"field": "c", "type": "quantitative", "scale": {"domain": [-0.02, 0.97], "nice": false, "zero": false}, "axis": {"title": null, "values": [0, 0.5], "format": ".1f"}}}},
   {"data": {"name": "T9p"}, "mark": {"type": "errorbar", "color": "black", "rule": {"strokeWidth": 1.2}}, "encoding": {"x": {"field": "f", "type": "quantitative"}, "y": {"field": "c", "type": "quantitative"}, "yError": {"field": "e"}}},
   {"data": {"name": "T9p"}, "mark": {"type": "point", "filled": true, "size": 22, "opacity": 1},
    "encoding": {"x": {"field": "f", "type": "quantitative"}, "y": {"field": "c", "type": "quantitative"},
     "color": {"datum": "¹¹⁴Sn", "scale": {"range": ["black"]}, "legend": {"orient": "none", "legendX": 637, "legendY": 9, "title": null, "padding": 6, "strokeColor": "#cccccc", "fillColor": "rgba(255,255,255,0.8)", "cornerRadius": 4, "labelFontSize": 18, "labelFont": "DejaVu Sans", "labelColor": "black", "labelOffset": 24, "symbolSize": 256, "symbolOffset": 11, "symbolType": "M-1.125,0H1.125M0,-0.94V0.94", "symbolStrokeColor": "black", "symbolStrokeWidth": 1.6, "symbolFillColor": "transparent", "encode": {"symbols": {"update": {"fill": {"value": "transparent"}, "stroke": {"value": "black"}, "strokeWidth": {"value": 1.6}, "shape": {"value": "M-1.125,0H1.125M0,-0.94V0.94"}}}}}}}}
  ]},
  {"width": 1162, "height": 48.6, "layer": [
   {"data": {"name": "T10f"}, "mark": {"type": "line", "color": "red", "strokeWidth": 1.5, "interpolate": "monotone", "clip": true},
    "encoding": {"x": {"field": "f", "type": "quantitative", "scale": {"domain": [294, 9212], "nice": false, "zero": false}, "axis": {"title": "Frequency\u00a0\u00a0\u00a0- 1 046 700 000 (MHz)", "titleFontSize": 30.5, "titlePadding": 12, "labelPadding": -1, "values": [1000,2000,3000,4000,5000,6000,7000,8000,9000], "format": "d"}},
                 "y": {"field": "c", "type": "quantitative", "scale": {"domain": [-0.017, 0.583], "nice": false, "zero": false}, "axis": {"title": null, "values": [0, 0.5], "format": ".1f"}}}},
   {"data": {"name": "T10p"}, "mark": {"type": "errorbar", "color": "black", "rule": {"strokeWidth": 1.2}}, "encoding": {"x": {"field": "f", "type": "quantitative"}, "y": {"field": "c", "type": "quantitative"}, "yError": {"field": "e"}}},
   {"data": {"name": "T10p"}, "mark": {"type": "point", "filled": true, "size": 22, "opacity": 1},
    "encoding": {"x": {"field": "f", "type": "quantitative"}, "y": {"field": "c", "type": "quantitative"},
     "color": {"datum": "¹¹²Sn", "scale": {"range": ["black"]}, "legend": {"orient": "none", "legendX": 637, "legendY": 9, "title": null, "padding": 6, "strokeColor": "#cccccc", "fillColor": "rgba(255,255,255,0.8)", "cornerRadius": 4, "labelFontSize": 18, "labelFont": "DejaVu Sans", "labelColor": "black", "labelOffset": 24, "symbolSize": 256, "symbolOffset": 11, "symbolType": "M-1.125,0H1.125M0,-0.94V0.94", "symbolStrokeColor": "black", "symbolStrokeWidth": 1.6, "symbolFillColor": "transparent", "encode": {"symbols": {"update": {"fill": {"value": "transparent"}, "stroke": {"value": "black"}, "strokeWidth": {"value": 1.6}, "shape": {"value": "M-1.125,0H1.125M0,-0.94V0.94"}}}}}}}}
  ]}
 ]
},
{
 "title": {"text": "Ion count (cps)", "orient": "left", "anchor": "middle", "offset": 6, "dx": 10},
 "bounds": "flush",
 "spacing": 21.5,
 "resolve": {"scale": {"color": "independent"}, "legend": {"color": "independent"}},
 "vconcat": [
  {"width": 1135, "height": 58.3, "layer": [
   {"data": {"name": "B1p"}, "mark": {"type": "line", "color": "black", "strokeWidth": 1, "strokeDash": [3, 2]},
    "encoding": {"x": {"field": "f", "type": "quantitative", "scale": {"domain": [996.5, 2000], "nice": false, "zero": false}, "axis": {"title": null, "labels": false, "values": [1000,1200,1400,1600,1800,2000]}},
                 "y": {"field": "c", "type": "quantitative", "scale": {"domain": [-0.13, 10.74], "nice": false, "zero": false}, "axis": {"title": null, "values": [0, 10], "format": "d"}}}},
   {"data": {"name": "B1f"}, "mark": {"type": "line", "color": "red", "strokeWidth": 1.3, "interpolate": "monotone", "clip": true}, "encoding": {"x": {"field": "f", "type": "quantitative"}, "y": {"field": "c", "type": "quantitative"}}},
   {"data": {"name": "B1p"}, "mark": {"type": "point", "filled": true, "size": 8, "opacity": 1},
    "encoding": {"x": {"field": "f", "type": "quantitative"}, "y": {"field": "c", "type": "quantitative"},
     "color": {"datum": "¹²⁴Sn", "scale": {"range": ["black"]}, "legend": {"orient": "none", "legendX": 1013, "legendY": 10, "title": null, "padding": 6, "strokeColor": "#cccccc", "fillColor": "rgba(255,255,255,0.8)", "cornerRadius": 4, "labelFontSize": 18, "labelFont": "DejaVu Sans", "labelColor": "black", "labelOffset": 24, "symbolSize": 256, "symbolOffset": 11, "symbolType": "M-2.25,0H-1.85M-1.6,0H-1.2M-0.95,0H0.95M1.2,0H1.6M1.85,0H2.25M0,-1.06V1.06", "symbolStrokeColor": "black", "symbolStrokeWidth": 1.2, "symbolFillColor": "transparent", "encode": {"symbols": {"update": {"fill": {"value": "transparent"}, "stroke": {"value": "black"}, "strokeWidth": {"value": 1.2}, "shape": {"value": "M-2.25,0H-1.85M-1.6,0H-1.2M-0.95,0H0.95M1.2,0H1.6M1.85,0H2.25M0,-1.06V1.06"}}}}}}}}
  ]},
  {"width": 1135, "height": 58.3, "layer": [
   {"data": {"name": "B2p"}, "mark": {"type": "line", "color": "black", "strokeWidth": 1, "strokeDash": [3, 2]},
    "encoding": {"x": {"field": "f", "type": "quantitative", "scale": {"domain": [996.5, 2000], "nice": false, "zero": false}, "axis": {"title": null, "labels": false, "values": [1000,1200,1400,1600,1800,2000]}},
                 "y": {"field": "c", "type": "quantitative", "scale": {"domain": [-0.65, 13.4], "nice": false, "zero": false}, "axis": {"title": null, "values": [0, 10], "format": "d"}}}},
   {"data": {"name": "B2f"}, "mark": {"type": "line", "color": "red", "strokeWidth": 1.3, "interpolate": "monotone", "clip": true}, "encoding": {"x": {"field": "f", "type": "quantitative"}, "y": {"field": "c", "type": "quantitative"}}},
   {"data": {"name": "B2p"}, "mark": {"type": "point", "filled": true, "size": 8, "opacity": 1},
    "encoding": {"x": {"field": "f", "type": "quantitative"}, "y": {"field": "c", "type": "quantitative"},
     "color": {"datum": "¹²²Sn", "scale": {"range": ["black"]}, "legend": {"orient": "none", "legendX": 1013, "legendY": 10, "title": null, "padding": 6, "strokeColor": "#cccccc", "fillColor": "rgba(255,255,255,0.8)", "cornerRadius": 4, "labelFontSize": 18, "labelFont": "DejaVu Sans", "labelColor": "black", "labelOffset": 24, "symbolSize": 256, "symbolOffset": 11, "symbolType": "M-2.25,0H-1.85M-1.6,0H-1.2M-0.95,0H0.95M1.2,0H1.6M1.85,0H2.25M0,-1.06V1.06", "symbolStrokeColor": "black", "symbolStrokeWidth": 1.2, "symbolFillColor": "transparent", "encode": {"symbols": {"update": {"fill": {"value": "transparent"}, "stroke": {"value": "black"}, "strokeWidth": {"value": 1.2}, "shape": {"value": "M-2.25,0H-1.85M-1.6,0H-1.2M-0.95,0H0.95M1.2,0H1.6M1.85,0H2.25M0,-1.06V1.06"}}}}}}}}
  ]},
  {"width": 1135, "height": 58.3, "layer": [
   {"data": {"name": "B3p"}, "mark": {"type": "line", "color": "black", "strokeWidth": 1, "strokeDash": [3, 2]},
    "encoding": {"x": {"field": "f", "type": "quantitative", "scale": {"domain": [996.5, 2000], "nice": false, "zero": false}, "axis": {"title": null, "labels": false, "values": [1000,1200,1400,1600,1800,2000]}},
                 "y": {"field": "c", "type": "quantitative", "scale": {"domain": [-4.6, 96], "nice": false, "zero": false}, "axis": {"title": null, "values": [0, 50], "format": "d"}}}},
   {"data": {"name": "B3f"}, "mark": {"type": "line", "color": "red", "strokeWidth": 1.3, "interpolate": "monotone", "clip": true}, "encoding": {"x": {"field": "f", "type": "quantitative"}, "y": {"field": "c", "type": "quantitative"}}},
   {"data": {"name": "B3p"}, "mark": {"type": "point", "filled": true, "size": 8, "opacity": 1},
    "encoding": {"x": {"field": "f", "type": "quantitative"}, "y": {"field": "c", "type": "quantitative"},
     "color": {"datum": "¹²⁰Sn", "scale": {"range": ["black"]}, "legend": {"orient": "none", "legendX": 1013, "legendY": 10, "title": null, "padding": 6, "strokeColor": "#cccccc", "fillColor": "rgba(255,255,255,0.8)", "cornerRadius": 4, "labelFontSize": 18, "labelFont": "DejaVu Sans", "labelColor": "black", "labelOffset": 24, "symbolSize": 256, "symbolOffset": 11, "symbolType": "M-2.25,0H-1.85M-1.6,0H-1.2M-0.95,0H0.95M1.2,0H1.6M1.85,0H2.25M0,-1.06V1.06", "symbolStrokeColor": "black", "symbolStrokeWidth": 1.2, "symbolFillColor": "transparent", "encode": {"symbols": {"update": {"fill": {"value": "transparent"}, "stroke": {"value": "black"}, "strokeWidth": {"value": 1.2}, "shape": {"value": "M-2.25,0H-1.85M-1.6,0H-1.2M-0.95,0H0.95M1.2,0H1.6M1.85,0H2.25M0,-1.06V1.06"}}}}}}}}
  ]},
  {"width": 1135, "height": 58.3, "layer": [
   {"data": {"name": "B4p"}, "mark": {"type": "line", "color": "black", "strokeWidth": 1, "strokeDash": [3, 2]},
    "encoding": {"x": {"field": "f", "type": "quantitative", "scale": {"domain": [996.5, 2000], "nice": false, "zero": false}, "axis": {"title": null, "labels": false, "values": [1000,1200,1400,1600,1800,2000]}},
                 "y": {"field": "c", "type": "quantitative", "scale": {"domain": [-1.6, 52.1], "nice": false, "zero": false}, "axis": {"title": null, "values": [0, 50], "format": "d"}}}},
   {"data": {"name": "B4f"}, "mark": {"type": "line", "color": "red", "strokeWidth": 1.3, "interpolate": "monotone", "clip": true}, "encoding": {"x": {"field": "f", "type": "quantitative"}, "y": {"field": "c", "type": "quantitative"}}},
   {"data": {"name": "B4p"}, "mark": {"type": "point", "filled": true, "size": 8, "opacity": 1},
    "encoding": {"x": {"field": "f", "type": "quantitative"}, "y": {"field": "c", "type": "quantitative"},
     "color": {"datum": "¹¹⁸Sn", "scale": {"range": ["black"]}, "legend": {"orient": "none", "legendX": 1013, "legendY": 10, "title": null, "padding": 6, "strokeColor": "#cccccc", "fillColor": "rgba(255,255,255,0.8)", "cornerRadius": 4, "labelFontSize": 18, "labelFont": "DejaVu Sans", "labelColor": "black", "labelOffset": 24, "symbolSize": 256, "symbolOffset": 11, "symbolType": "M-2.25,0H-1.85M-1.6,0H-1.2M-0.95,0H0.95M1.2,0H1.6M1.85,0H2.25M0,-1.06V1.06", "symbolStrokeColor": "black", "symbolStrokeWidth": 1.2, "symbolFillColor": "transparent", "encode": {"symbols": {"update": {"fill": {"value": "transparent"}, "stroke": {"value": "black"}, "strokeWidth": {"value": 1.2}, "shape": {"value": "M-2.25,0H-1.85M-1.6,0H-1.2M-0.95,0H0.95M1.2,0H1.6M1.85,0H2.25M0,-1.06V1.06"}}}}}}}}
  ]},
  {"width": 1135, "height": 58.3, "layer": [
   {"data": {"name": "B5p"}, "mark": {"type": "line", "color": "black", "strokeWidth": 1, "strokeDash": [3, 2]},
    "encoding": {"x": {"field": "f", "type": "quantitative", "scale": {"domain": [996.5, 2000], "nice": false, "zero": false}, "axis": {"title": null, "labels": false, "values": [1000,1200,1400,1600,1800,2000]}},
                 "y": {"field": "c", "type": "quantitative", "scale": {"domain": [-1, 26.9], "nice": false, "zero": false}, "axis": {"title": null, "values": [0, 25], "format": "d"}}}},
   {"data": {"name": "B5f"}, "mark": {"type": "line", "color": "red", "strokeWidth": 1.3, "interpolate": "monotone", "clip": true}, "encoding": {"x": {"field": "f", "type": "quantitative"}, "y": {"field": "c", "type": "quantitative"}}},
   {"data": {"name": "B5p"}, "mark": {"type": "point", "filled": true, "size": 8, "opacity": 1},
    "encoding": {"x": {"field": "f", "type": "quantitative"}, "y": {"field": "c", "type": "quantitative"},
     "color": {"datum": "¹¹⁶Sn", "scale": {"range": ["black"]}, "legend": {"orient": "none", "legendX": 1013, "legendY": 10, "title": null, "padding": 6, "strokeColor": "#cccccc", "fillColor": "rgba(255,255,255,0.8)", "cornerRadius": 4, "labelFontSize": 18, "labelFont": "DejaVu Sans", "labelColor": "black", "labelOffset": 24, "symbolSize": 256, "symbolOffset": 11, "symbolType": "M-2.25,0H-1.85M-1.6,0H-1.2M-0.95,0H0.95M1.2,0H1.6M1.85,0H2.25M0,-1.06V1.06", "symbolStrokeColor": "black", "symbolStrokeWidth": 1.2, "symbolFillColor": "transparent", "encode": {"symbols": {"update": {"fill": {"value": "transparent"}, "stroke": {"value": "black"}, "strokeWidth": {"value": 1.2}, "shape": {"value": "M-2.25,0H-1.85M-1.6,0H-1.2M-0.95,0H0.95M1.2,0H1.6M1.85,0H2.25M0,-1.06V1.06"}}}}}}}}
  ]},
  {"width": 1135, "height": 58.3, "layer": [
   {"data": {"name": "B6p"}, "mark": {"type": "line", "color": "black", "strokeWidth": 1, "strokeDash": [3, 2]},
    "encoding": {"x": {"field": "f", "type": "quantitative", "scale": {"domain": [996.5, 2000], "nice": false, "zero": false}, "axis": {"title": null, "labels": false, "values": [1000,1200,1400,1600,1800,2000]}},
                 "y": {"field": "c", "type": "quantitative", "scale": {"domain": [-0.034, 1.37], "nice": false, "zero": false}, "axis": {"title": null, "values": [0, 1], "format": "d"}}}},
   {"data": {"name": "B6f"}, "mark": {"type": "line", "color": "red", "strokeWidth": 1.3, "interpolate": "monotone", "clip": true}, "encoding": {"x": {"field": "f", "type": "quantitative"}, "y": {"field": "c", "type": "quantitative"}}},
   {"data": {"name": "B6p"}, "mark": {"type": "errorbar", "color": "black", "rule": {"strokeWidth": 1.2}}, "encoding": {"x": {"field": "f", "type": "quantitative"}, "y": {"field": "c", "type": "quantitative"}, "yError": {"field": "e"}}},
   {"data": {"name": "B6p"}, "mark": {"type": "point", "filled": true, "size": 8, "opacity": 1},
    "encoding": {"x": {"field": "f", "type": "quantitative"}, "y": {"field": "c", "type": "quantitative"},
     "color": {"datum": "¹¹⁴Sn", "scale": {"range": ["black"]}, "legend": {"orient": "none", "legendX": 1013, "legendY": 10, "title": null, "padding": 6, "strokeColor": "#cccccc", "fillColor": "rgba(255,255,255,0.8)", "cornerRadius": 4, "labelFontSize": 18, "labelFont": "DejaVu Sans", "labelColor": "black", "labelOffset": 24, "symbolSize": 256, "symbolOffset": 11, "symbolType": "M-2.25,0H-1.85M-1.6,0H-1.2M-0.95,0H0.95M1.2,0H1.6M1.85,0H2.25M0,-1.06V1.06", "symbolStrokeColor": "black", "symbolStrokeWidth": 1.2, "symbolFillColor": "transparent", "encode": {"symbols": {"update": {"fill": {"value": "transparent"}, "stroke": {"value": "black"}, "strokeWidth": {"value": 1.2}, "shape": {"value": "M-2.25,0H-1.85M-1.6,0H-1.2M-0.95,0H0.95M1.2,0H1.6M1.85,0H2.25M0,-1.06V1.06"}}}}}}}}
  ]},
  {"width": 1135, "height": 58.3, "layer": [
   {"data": {"name": "B7p"}, "mark": {"type": "line", "color": "black", "strokeWidth": 1, "strokeDash": [3, 2]},
    "encoding": {"x": {"field": "f", "type": "quantitative", "scale": {"domain": [996.5, 2000], "nice": false, "zero": false}, "axis": {"title": "Frequency\u00a0\u00a0\u00a0- 369 351 050 (MHz)", "titleFontSize": 32, "titlePadding": 2, "labelPadding": -2, "values": [1000,1200,1400,1600,1800,2000], "format": "d"}},
                 "y": {"field": "c", "type": "quantitative", "scale": {"domain": [-0.054, 1.11], "nice": false, "zero": false}, "axis": {"title": null, "values": [0, 1], "format": "d"}}}},
   {"data": {"name": "B7f"}, "mark": {"type": "line", "color": "red", "strokeWidth": 1.3, "interpolate": "monotone", "clip": true}, "encoding": {"x": {"field": "f", "type": "quantitative"}, "y": {"field": "c", "type": "quantitative"}}},
   {"data": {"name": "B7p"}, "mark": {"type": "errorbar", "color": "black", "rule": {"strokeWidth": 1.2}}, "encoding": {"x": {"field": "f", "type": "quantitative"}, "y": {"field": "c", "type": "quantitative"}, "yError": {"field": "e"}}},
   {"data": {"name": "B7p"}, "mark": {"type": "point", "filled": true, "size": 8, "opacity": 1},
    "encoding": {"x": {"field": "f", "type": "quantitative"}, "y": {"field": "c", "type": "quantitative"},
     "color": {"datum": "¹¹²Sn", "scale": {"range": ["black"]}, "legend": {"orient": "none", "legendX": 1013, "legendY": 10, "title": null, "padding": 6, "strokeColor": "#cccccc", "fillColor": "rgba(255,255,255,0.8)", "cornerRadius": 4, "labelFontSize": 18, "labelFont": "DejaVu Sans", "labelColor": "black", "labelOffset": 24, "symbolSize": 256, "symbolOffset": 11, "symbolType": "M-2.25,0H-1.85M-1.6,0H-1.2M-0.95,0H0.95M1.2,0H1.6M1.85,0H2.25M0,-1.06V1.06", "symbolStrokeColor": "black", "symbolStrokeWidth": 1.2, "symbolFillColor": "transparent", "encode": {"symbols": {"update": {"fill": {"value": "transparent"}, "stroke": {"value": "black"}, "strokeWidth": {"value": 1.2}, "shape": {"value": "M-2.25,0H-1.85M-1.6,0H-1.2M-0.95,0H0.95M1.2,0H1.6M1.85,0H2.25M0,-1.06V1.06"}}}}}}}}
  ]}
 ]
}
]
}
